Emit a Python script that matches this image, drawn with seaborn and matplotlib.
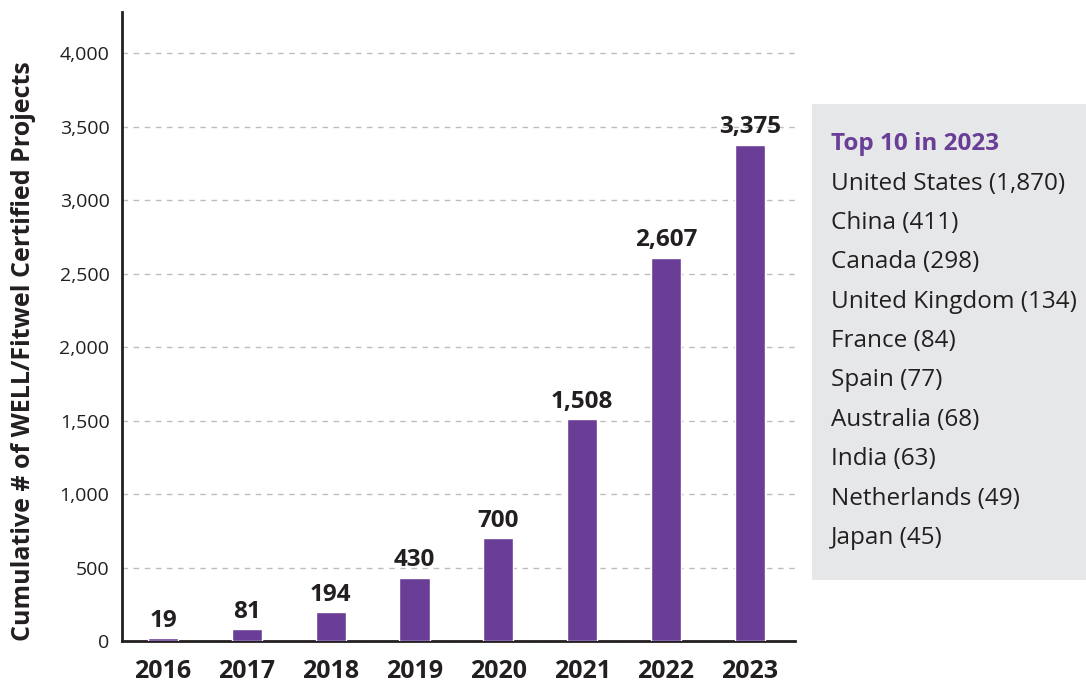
import matplotlib
matplotlib.use("Agg")
import matplotlib.pyplot as plt
import seaborn as sns
import pandas as pd
from matplotlib.patches import Rectangle

years = ["2016", "2017", "2018", "2019", "2020", "2021", "2022", "2023"]
projects = [19, 81, 194, 430, 700, 1508, 2607, 3375]
top_countries = ["United States", "China", "Canada", "United Kingdom", "France",
                 "Spain", "Australia", "India", "Netherlands", "Japan"]
top_counts = [1870, 411, 298, 134, 84, 77, 68, 63, 49, 45]
yticks = [0, 500, 1000, 1500, 2000, 2500, 3000, 3500, 4000]

sns.set_style("white")
plt.rcParams['font.family'] = ['Open Sans', 'DejaVu Sans']

purple = "#6a3d97"
dark = "#231f20"

df = pd.DataFrame({"year": years, "projects": projects})

fig = plt.figure(figsize=(10.86, 6.83), dpi=100)
ax = fig.add_axes([0.1123, 0.0615, 0.6198, 0.9209])

sns.barplot(data=df, x="year", y="projects", color=purple, width=0.36,
            saturation=1, ax=ax, zorder=3)

ax.set_ylim(0, 4280)
ax.set_xlim(-0.49, 7.54)
ax.set_yticks(yticks)
ax.set_yticklabels([f"{v:,}" for v in yticks], fontsize=14, color=dark)
ax.tick_params(axis='x', labelsize=18, colors=dark, length=0, pad=13)
ax.tick_params(axis='y', length=0, pad=9)
for lbl in ax.get_xticklabels():
    lbl.set_fontweight('bold')

ax.yaxis.grid(True, linestyle=(0, (4, 4)), color="#bdbdbd", linewidth=1, zorder=0)
ax.set_axisbelow(True)
for s in ["top", "right"]:
    ax.spines[s].set_visible(False)
for s in ["left", "bottom"]:
    ax.spines[s].set_color(dark)
    ax.spines[s].set_linewidth(2)

ax.set_xlabel("")
ax.set_ylabel("Cumulative # of WELL/Fitwel Certified Projects", fontsize=18,
              fontweight='bold', color=dark)
ax.yaxis.set_label_coords(-0.146, 0.461)
ax.yaxis.label.set_va("center")

for i, v in enumerate(projects):
    ax.annotate(f"{v:,}", (i, v), xytext=(0, 4), textcoords="offset points",
                ha="center", va="bottom", fontsize=17.5, fontweight="bold", color=dark)

# Side panel
fig.patches.append(Rectangle((812 / 1086, 1 - 580 / 683), (1086 - 812) / 1086,
                             (580 - 104) / 683, transform=fig.transFigure,
                             facecolor="#e6e7e9", edgecolor="none", zorder=0))
x0 = 831 / 1086
fig.text(x0, 1 - 144 / 683, "Top 10 in 2023", fontsize=17.5, fontweight="bold",
         color=purple, va="center", ha="left")
for k, (c, n) in enumerate(zip(top_countries, top_counts)):
    y = 183.5 + k * 39.4
    fig.text(x0, 1 - y / 683, f"{c} ({n:,})", fontsize=17.5, color=dark,
             va="center", ha="left")

fig.savefig("out.png", dpi=100)
